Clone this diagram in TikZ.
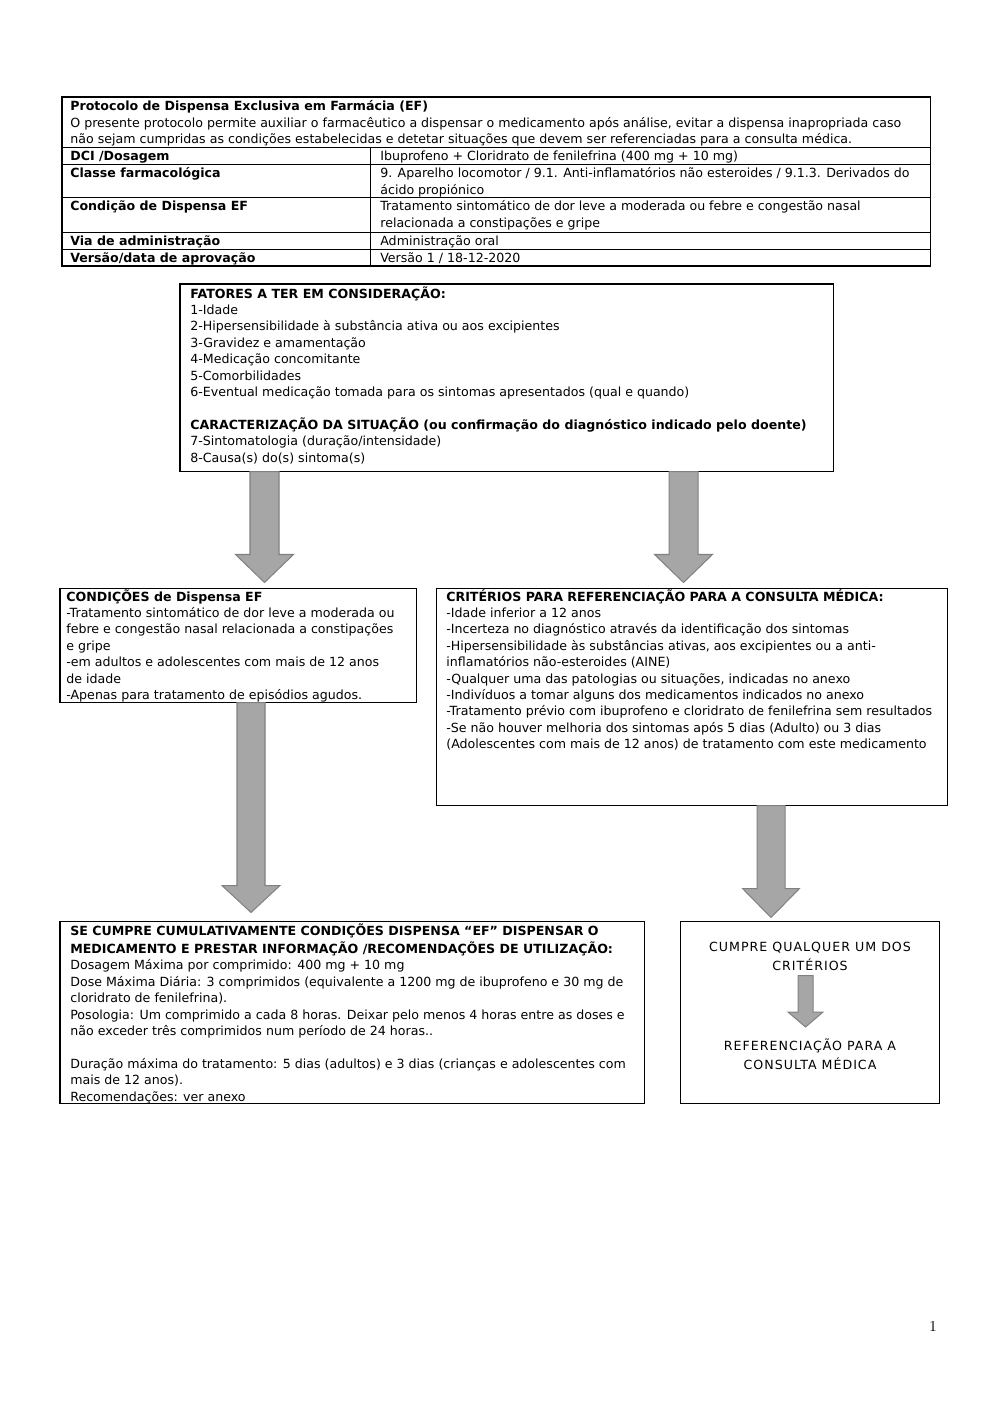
\documentclass[tikz,border=0pt]{standalone}
\usepackage{fontspec}
\usepackage{tikz}
\usetikzlibrary{calc,fit}
\newfontfamily\dejavu{DejaVu Sans}
\newfontfamily\dejavuesp[LetterSpace=8]{DejaVu Sans}
\definecolor{setacinza}{HTML}{A6A6A6}
\definecolor{setaborda}{HTML}{808080}
\newcommand{\letra}{\dejavu\fontsize{7.5}{9.76}\selectfont}
\tikzset{
  caixa/.style={draw, line width=0.6pt, inner sep=0pt},
  texto/.style={anchor=north west, align=left, inner sep=0pt},
  centro/.style={anchor=north, align=center, inner sep=0pt, font=\dejavuesp\fontsize{7.5}{9.76}\selectfont},
  seta/.style={fill=setacinza, draw=setaborda, line width=0.6pt, line join=miter}
}
\newcommand{\setabloco}[5]{%
  \coordinate (sa) at (#1);
  \coordinate (sb0) at (#2);
  \coordinate (sb) at (sa |- sb0);
  \draw[seta] ($(sa)+(-#3,0)$) -- ($(sb)+(-#3,-#5)$) -- ($(sb)+(-#4,-#5)$) -- (sb)
    -- ($(sb)+(#4,-#5)$) -- ($(sb)+(#3,-#5)$) -- ($(sa)+(#3,0)$) -- cycle;
}

\begin{document}
\begin{tikzpicture}[x=0.595pt, y=-0.595pt, font=\letra]
  \useasboundingbox (0,0) rectangle (1000,1415);
  \node[caixa, fit={(62,97) (930,266)}] (tabela) {};
  \foreach \y in {147,164,197,232,249}{ \draw[line width=0.5pt] (62,\y) -- (930,\y); }
  \draw[line width=0.5pt] (370,147) -- (370,266);
  \node[texto] (cabecalho) at (70,99) {\strut\textbf{Protocolo de Dispensa Exclusiva em Farmácia (EF)}\\O presente protocolo permite auxiliar o farmacêutico a dispensar o medicamento após análise, evitar a dispensa inapropriada caso\\não sejam cumpridas as condições estabelecidas e detetar situações que devem ser referenciadas para a consulta médica.};
  \node[texto] (dci) at (70,149) {\strut\textbf{DCI /Dosagem}};
  \node[texto] (dci-v) at (380,149) {\strut Ibuprofeno + Cloridrato de fenilefrina (400 mg + 10 mg)};
  \node[texto] (classe) at (70,166) {\strut\textbf{Classe farmacológica}};
  \node[texto] (classe-v) at (380,166) {\strut 9. Aparelho locomotor / 9.1. Anti-inflamatórios não esteroides / 9.1.3. Derivados do\\ácido propiónico};
  \node[texto] (condef) at (70,199) {\strut\textbf{Condição de Dispensa EF}};
  \node[texto] (condef-v) at (380,199) {\strut Tratamento sintomático de dor leve a moderada ou febre e congestão nasal\\relacionada a constipações e gripe};
  \node[texto] (via) at (70,234) {\strut\textbf{Via de administração}};
  \node[texto] (via-v) at (380,234) {\strut Administração oral};
  \node[texto] (versao) at (70,251) {\strut\textbf{Versão/data de aprovação}};
  \node[texto] (versao-v) at (380,251) {\strut Versão 1 / 18-12-2020};

  \node[caixa, fit={(180,284) (833,471)}] (fatores) {};
  \node[texto] (fatores-t) at (190,286) {\strut\textbf{FATORES A TER EM CONSIDERAÇÃO:}\\1-Idade\\2-Hipersensibilidade à substância ativa ou aos excipientes\\3-Gravidez e amamentação\\4-Medicação concomitante\\5-Comorbilidades\\6-Eventual medicação tomada para os sintomas apresentados (qual e quando)\\[9.76pt]\textbf{CARACTERIZAÇÃO DA SITUAÇÃO (ou confirmação do diagnóstico indicado pelo doente)}\\7-Sintomatologia (duração/intensidade)\\8-Causa(s) do(s) sintoma(s)};

  \node[caixa, fit={(60,588) (416,702)}] (condicoes) {};
  \node[texto] (condicoes-t) at (66,589) {\strut\textbf{CONDIÇÕES de Dispensa EF}\\-Tratamento sintomático de dor leve a moderada ou\\febre e congestão nasal relacionada a constipações\\e gripe\\-em adultos e adolescentes com mais de 12 anos\\de idade\\-Apenas para tratamento de episódios agudos.};

  \node[caixa, fit={(436,588) (947,805)}] (criterios) {};
  \node[texto] (criterios-t) at (446,589) {\strut\textbf{CRITÉRIOS PARA REFERENCIAÇÃO PARA A CONSULTA MÉDICA:}\\-Idade inferior a 12 anos\\-Incerteza no diagnóstico através da identificação dos sintomas\\-Hipersensibilidade às substâncias ativas, aos excipientes ou a anti-\\inflamatórios não-esteroides (AINE)\\-Qualquer uma das patologias ou situações, indicadas no anexo\\-Indivíduos a tomar alguns dos medicamentos indicados no anexo\\-Tratamento prévio com ibuprofeno e cloridrato de fenilefrina sem resultados\\-Se não houver melhoria dos sintomas após 5 dias (Adulto) ou 3 dias\\(Adolescentes com mais de 12 anos) de tratamento com este medicamento};

  \node[caixa, fit={(60,921) (644,1103)}] (secumpre) {};
  \node[texto] (secumpre-t) at (70,923) {\strut\textbf{SE CUMPRE CUMULATIVAMENTE CONDIÇÕES DISPENSA “EF” DISPENSAR O}\\\textbf{MEDICAMENTO E PRESTAR INFORMAÇÃO /RECOMENDAÇÕES DE UTILIZAÇÃO:}\\Dosagem Máxima por comprimido: 400 mg + 10 mg\\Dose Máxima Diária: 3 comprimidos (equivalente a 1200 mg de ibuprofeno e 30 mg de\\cloridrato de fenilefrina).\\Posologia: Um comprimido a cada 8 horas. Deixar pelo menos 4 horas entre as doses e\\não exceder três comprimidos num período de 24 horas..\\[9.76pt]Duração máxima do tratamento: 5 dias (adultos) e 3 dias (crianças e adolescentes com\\mais de 12 anos).\\Recomendações: ver anexo};

  \node[caixa, fit={(680,921) (939,1103)}] (cumpre) {};
  \node[centro] (cumpre-a) at (810,940) {\strut CUMPRE QUALQUER UM DOS\\CRITÉRIOS};
  \node[centro] (cumpre-b) at (810,1039) {\strut REFERENCIAÇÃO PARA A\\CONSULTA MÉDICA};

  \coordinate (c1) at (264.5,0);
  \coordinate (c2) at (683.5,0);
  \coordinate (c3) at (251,0);
  \coordinate (c4) at (771,0);
  \coordinate (c5) at (805.5,0);
  \setabloco{fatores.south -| c1}{$(condicoes.north)+(0,-5)$}{14.5}{29}{28}
  \setabloco{fatores.south -| c2}{$(criterios.north)+(0,-5)$}{14.5}{29}{28}
  \setabloco{condicoes.south -| c3}{$(secumpre.north)+(0,-8)$}{14}{29}{27}
  \setabloco{criterios.south -| c4}{$(cumpre.north)+(0,-3)$}{14}{28.5}{29}
  \setabloco{$(cumpre-a.south -| c5)+(0,5)$}{$(cumpre-b.north)+(0,-12)$}{7.5}{17.5}{15}

  \node[font=\rmfamily\fontsize{9}{10}\selectfont] (pagina) at (933,1326) {1};
\end{tikzpicture}
\end{document}
